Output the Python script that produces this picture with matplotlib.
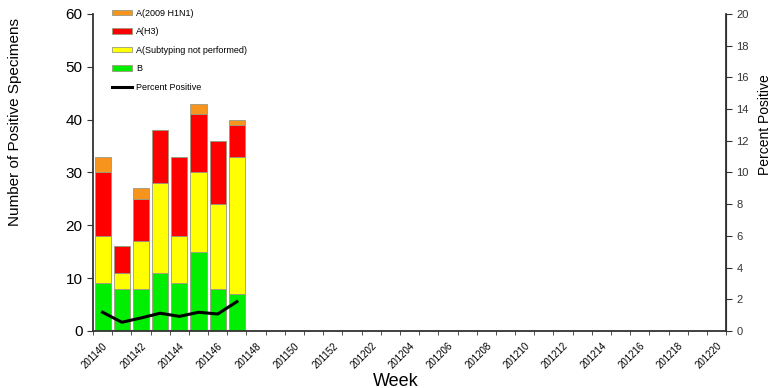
import numpy as np
import matplotlib
matplotlib.use('Agg')
import matplotlib.pyplot as plt

plt.rcParams['font.family'] = ['Liberation Sans', 'DejaVu Sans']

# weeks 201140..201152, 201201..201220
weeks = [str(201100 + w) for w in range(40, 53)] + [str(201200 + w) for w in range(1, 21)]

# positive specimens per week (only first 8 weeks reported)
b_vals = [9, 8, 8, 11, 9, 15, 8, 7]
a_unsub = [9, 3, 9, 17, 9, 15, 16, 26]
a_h3 = [12, 5, 8, 10, 15, 11, 12, 6]
a_h1n1 = [3, 0, 2, 0, 0, 2, 0, 1]
pct_pos = [1.18, 0.55, 0.82, 1.12, 0.92, 1.18, 1.07, 1.85]

fig = plt.figure(figsize=(7.75, 3.88), dpi=100)
ax = fig.add_axes([0.12, 0.147, 0.817, 0.817])
ax2 = ax.twinx()

n = len(b_vals)
x = np.arange(n)
w = 0.84
edge = dict(edgecolor='#9a9a80', linewidth=0.6)
bottom = np.zeros(n)
h_b = ax.bar(x, b_vals, w, bottom=bottom, color='#00ee00', **edge)
bottom += b_vals
h_u = ax.bar(x, a_unsub, w, bottom=bottom, color='#ffff00', **edge)
bottom += a_unsub
h_h3 = ax.bar(x, a_h3, w, bottom=bottom, color='#ff0000', **edge)
bottom += a_h3
h_h1 = ax.bar(x, a_h1n1, w, bottom=bottom, color='#f7941d', **edge)

ln, = ax2.plot(x, pct_pos, color='black', linewidth=2.2)

ax.set_xlim(-0.5, len(weeks) - 0.5)
ax.set_ylim(0, 60)
ax2.set_ylim(0, 20)
ax.set_yticks(range(0, 61, 10))
ax2.set_yticks(range(0, 21, 2))

ax.set_xticks(np.arange(0, len(weeks), 2))
ax.set_xticklabels(weeks[::2], rotation=45, ha='right', rotation_mode='anchor', fontsize=7)
ax.set_xticks(np.arange(-0.5, len(weeks), 1), minor=True)
ax.tick_params(axis='x', which='major', length=0, pad=7)
ax.tick_params(axis='x', which='minor', length=3, color='#333333')
ax.tick_params(axis='y', labelsize=11, length=4, color='#333333')
ax2.tick_params(axis='y', labelsize=8, length=4, color='#333333', labelcolor='#333333')

for a in (ax, ax2):
    a.spines['top'].set_visible(False)
for s in ('left', 'bottom'):
    ax.spines[s].set_color('#333333')
    ax.spines[s].set_linewidth(1.3)
ax2.spines['right'].set_color('#333333')
ax2.spines['right'].set_linewidth(1.3)
ax2.spines['left'].set_visible(False)
ax2.spines['bottom'].set_visible(False)

ax.set_xlabel('Week', fontsize=13, va='center')
ax.xaxis.set_label_coords(0.479, -0.158)
ax.set_ylabel('Number of Positive Specimens', fontsize=11, va='center')
ax.yaxis.set_label_coords(-0.123, 0.66)
ax2.set_ylabel('Percent Positive', fontsize=10, va='center', rotation=90)
ax2.yaxis.set_label_coords(1.062, 0.65)

ax.legend([h_h1, h_h3, h_u, h_b, ln],
          ['A(2009 H1N1)', 'A(H3)', 'A(Subtyping not performed)', 'B', 'Percent Positive'],
          loc='upper left', bbox_to_anchor=(0.03, 1.016), frameon=False, fontsize=6.5,
          borderpad=0, borderaxespad=0, handlelength=2.2, handleheight=0.55,
          labelspacing=1.05, handletextpad=0.45)

fig.savefig('out.png', dpi=100)
